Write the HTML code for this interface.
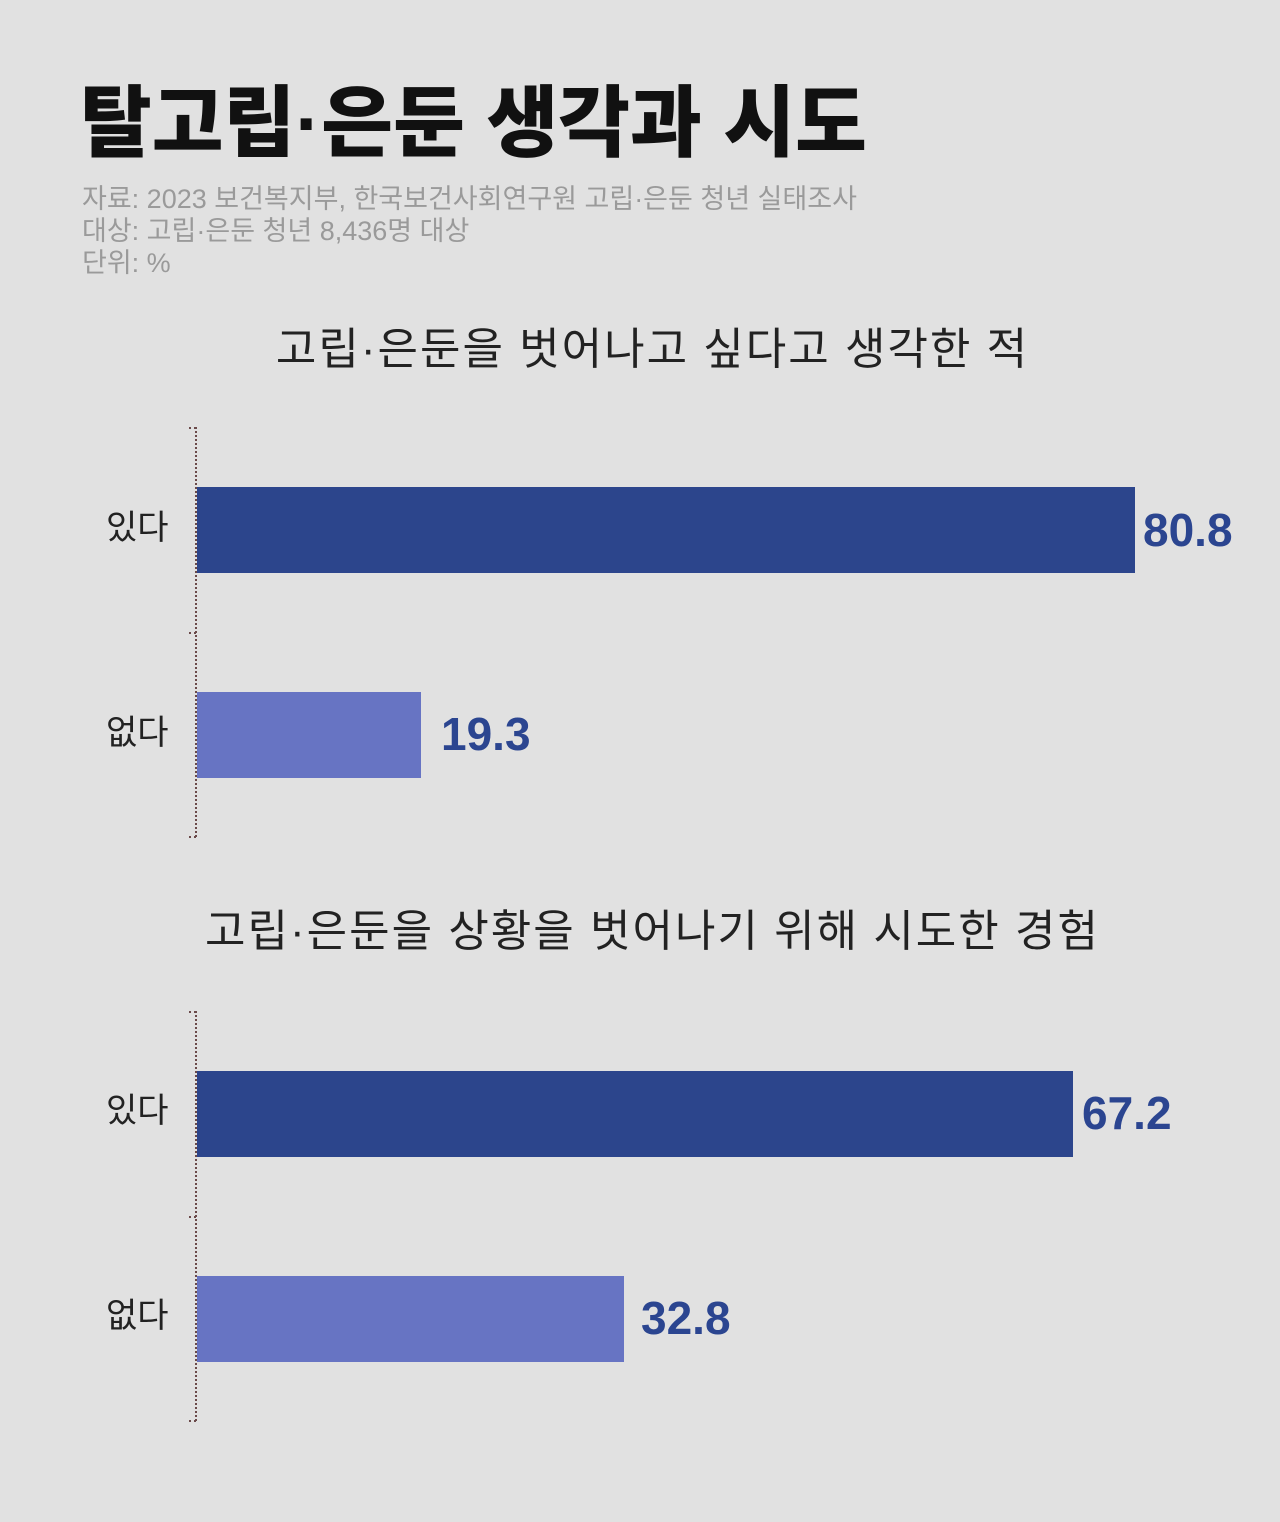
<!DOCTYPE html>
<html><head><meta charset="utf-8"><style>
body{margin:0;width:1280px;height:1522px;background:#e1e1e1;position:relative;overflow:hidden;font-family:"Liberation Sans","Noto Sans CJK KR",sans-serif}
.a{position:absolute;white-space:nowrap}
.t{left:80px;top:78px;font-size:78px;font-weight:900;color:#111;letter-spacing:0px;line-height:90px}
.s{left:82px;font-size:27px;color:#9a9a9a;line-height:30px}
.h{left:0;width:1305px;text-align:center;font-size:44px;letter-spacing:2px;color:#222;line-height:50px}
.ax{width:0;border-left:2px dotted #6b4a4a}
.tk{width:7px;border-top:2px dotted #6b4a4a}
.lb{font-size:34px;color:#222;line-height:40px;left:106px}
.b{left:197px;height:86px}
.d{background:#2c458c}.l{background:#6774c3}
.v{font-size:46px;font-weight:900;color:#2b4590;line-height:50px;letter-spacing:0px}
</style></head><body>
<div class="a t">탈고립·은둔 생각과 시도</div>
<div class="a s" style="top:184px">자료: 2023 보건복지부, 한국보건사회연구원 고립·은둔 청년 실태조사</div>
<div class="a s" style="top:216px">대상: 고립·은둔 청년 8,436명 대상</div>
<div class="a s" style="top:248px">단위: %</div>

<div class="a h" style="top:325px">고립·은둔을 벗어나고 싶다고 생각한 적</div>
<div class="a ax" style="left:195px;top:427px;height:410px"></div>
<div class="a tk" style="left:189px;top:427px"></div>
<div class="a tk" style="left:189px;top:632px"></div>
<div class="a tk" style="left:189px;top:836px"></div>
<div class="a lb" style="top:508px">있다</div>
<div class="a lb" style="top:713px">없다</div>
<div class="a b d" style="top:487px;width:938px"></div>
<div class="a b l" style="top:692px;width:224px"></div>
<div class="a v" style="left:1143px;top:505px">80.8</div>
<div class="a v" style="left:441px;top:709px">19.3</div>

<div class="a h" style="top:907px">고립·은둔을 상황을 벗어나기 위해 시도한 경험</div>
<div class="a ax" style="left:195px;top:1011px;height:410px"></div>
<div class="a tk" style="left:189px;top:1011px"></div>
<div class="a tk" style="left:189px;top:1216px"></div>
<div class="a tk" style="left:189px;top:1420px"></div>
<div class="a lb" style="top:1091px">있다</div>
<div class="a lb" style="top:1296px">없다</div>
<div class="a b d" style="top:1071px;width:876px"></div>
<div class="a b l" style="top:1276px;width:427px"></div>
<div class="a v" style="left:1082px;top:1088px">67.2</div>
<div class="a v" style="left:641px;top:1293px">32.8</div>
</body></html>
